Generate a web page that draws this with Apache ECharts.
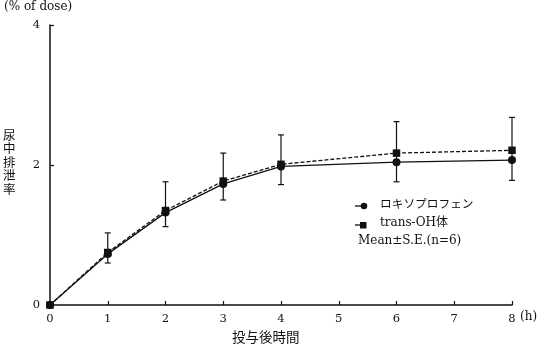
<!DOCTYPE html>
<html><head><meta charset="utf-8">
<script src="https://cdn.jsdelivr.net/npm/echarts@6/dist/echarts.min.js"></script>
<style>html,body{margin:0;padding:0;background:#fff}#c{width:537px;height:348px}</style>
</head><body><div id="c"></div>
<script>
const hours = [0, 1, 2, 3, 4, 6, 8];
const loxoprofen = [0, 0.73, 1.32, 1.73, 1.98, 2.04, 2.07];
const transOH = [0, 0.75, 1.35, 1.77, 2.01, 2.17, 2.21];
// error bar extents: top (trans-OH + S.E.) and bottom (loxoprofen - S.E.)
const errTop = [null, 1.03, 1.76, 2.17, 2.43, 2.62, 2.68];
const errBottom = [null, 0.60, 1.12, 1.50, 1.72, 1.76, 1.78];
const xTicks = [0, 1, 2, 3, 4, 5, 6, 7, 8];
const yTicks = [0, 2, 4];
const seriesNames = ['ロキソプロフェン', 'trans-OH体'];

const serif = '"DejaVu Serif","Noto Sans CJK JP",serif';
const jp = '"Noto Sans CJK JP",sans-serif';
const ink = '#111';

const errData = hours.map((h, i) => [h, errBottom[i], errTop[i]]).filter(d => d[1] != null);

const chart = echarts.init(document.getElementById('c'), null, {renderer: 'canvas'});
chart.setOption({
  animation: false,
  backgroundColor: '#fff',
  grid: {left: 50, right: 25, top: 25, bottom: 43},
  xAxis: {
    type: 'value', min: 0, max: 8, interval: 1,
    axisLine: {lineStyle: {color: ink, width: 1.5}},
    axisTick: {inside: true, length: 4, lineStyle: {color: ink, width: 1.2}},
    axisLabel: {color: ink, fontFamily: serif, fontSize: 11.5, margin: 8,
      formatter: v => xTicks.includes(v) ? String(v) : ''},
    splitLine: {show: false}
  },
  yAxis: {
    type: 'value', min: 0, max: 4, interval: 2,
    axisLine: {show: true, lineStyle: {color: ink, width: 1.5}},
    axisTick: {show: true, inside: true, length: 4, lineStyle: {color: ink, width: 1.2}},
    axisLabel: {color: ink, fontFamily: serif, fontSize: 11.5, margin: 10,
      formatter: v => yTicks.includes(v) ? String(v) : ''},
    splitLine: {show: false}
  },
  graphic: [
    {type: 'text', left: 4, top: 1, style: {text: '(% of dose)', font: '12px ' + serif, fill: ink}},
    {type: 'text', left: 3, top: 128, style: {text: '尿\n中\n排\n泄\n率', font: '12.5px ' + jp, fill: ink, lineHeight: 13.6}},
    {type: 'text', left: 232, top: 330, style: {text: '投与後時間', font: '13.5px ' + jp, fill: ink}},
    {type: 'text', left: 520, top: 311, style: {text: '(h)', font: '12px ' + serif, fill: ink}},
    // legend
    {type: 'line', shape: {x1: 355, y1: 206, x2: 366, y2: 206}, style: {stroke: ink, lineWidth: 1.3}},
    {type: 'circle', shape: {cx: 364, cy: 206, r: 3.3}, style: {fill: ink}},
    {type: 'text', left: 380, top: 198, style: {text: seriesNames[0], font: '11.7px ' + jp, fill: ink}},
    {type: 'line', shape: {x1: 355, y1: 225, x2: 366, y2: 225}, style: {stroke: ink, lineWidth: 1.3}},
    {type: 'rect', shape: {x: 360, y: 222, width: 6.5, height: 6.5}, style: {fill: ink}},
    {type: 'text', left: 380, top: 217, style: {text: seriesNames[1], font: '12px ' + serif, fill: ink}},
    {type: 'text', left: 358, top: 235, style: {text: 'Mean±S.E.(n=6)', font: '12px ' + serif, fill: ink}}
  ],
  series: [
    {
      type: 'custom', name: 'err', silent: true, z: 1,
      data: errData,
      renderItem: (params, api) => {
        const lo = api.coord([api.value(0), api.value(1)]);
        const hi = api.coord([api.value(0), api.value(2)]);
        const w = 3;
        return {type: 'group', children: [
          {type: 'line', shape: {x1: lo[0], y1: lo[1], x2: hi[0], y2: hi[1]}, style: {stroke: ink, lineWidth: 1.2}},
          {type: 'line', shape: {x1: lo[0]-w, y1: lo[1], x2: lo[0]+w, y2: lo[1]}, style: {stroke: ink, lineWidth: 1.2}},
          {type: 'line', shape: {x1: hi[0]-w, y1: hi[1], x2: hi[0]+w, y2: hi[1]}, style: {stroke: ink, lineWidth: 1.2}}
        ]};
      }
    },
    {
      type: 'line', name: seriesNames[0], z: 3,
      data: hours.map((h, i) => [h, loxoprofen[i]]),
      symbol: 'circle', symbolSize: 8,
      lineStyle: {color: ink, width: 1.3},
      itemStyle: {color: ink}
    },
    {
      type: 'line', name: seriesNames[1], z: 4,
      data: hours.map((h, i) => [h, transOH[i]]),
      symbol: 'rect', symbolSize: 7.5,
      lineStyle: {color: ink, width: 1.3, type: [4, 2]},
      itemStyle: {color: ink}
    }
  ]
});
</script></body></html>
